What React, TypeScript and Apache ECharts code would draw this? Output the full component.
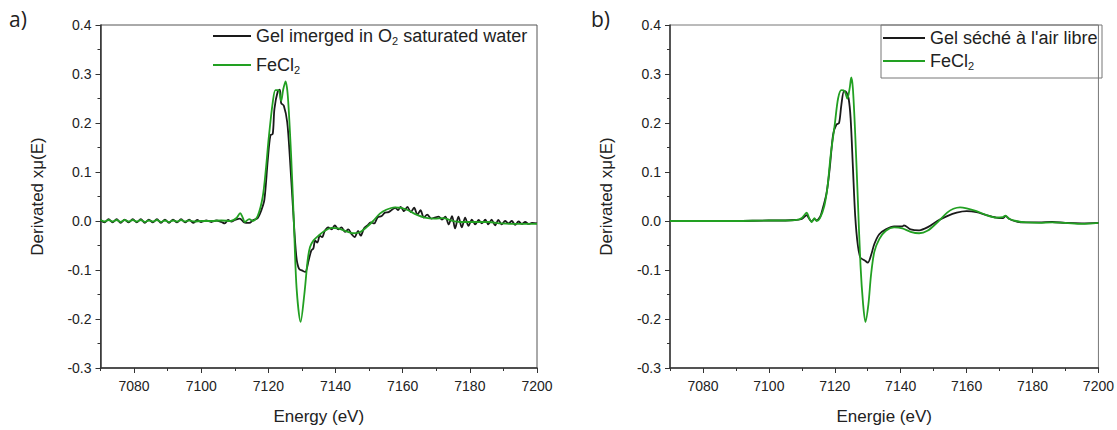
import React, { useEffect, useRef } from "react";
import * as echarts from "echarts";

// ---- Data (energy eV, derivative value) ----
const gelO2Water: [number, number][] = [
  [7070, 0.002], [7071.2, -0.003], [7072.4, 0.004], [7073.6, -0.003], [7074.8, 0.004], [7076, -0.004],
  [7077.2, 0.003], [7078.4, -0.003], [7079.6, 0.004], [7080.8, -0.003], [7082, 0.004], [7083.2, -0.004],
  [7084.4, 0.003], [7085.6, -0.003], [7086.8, 0.004], [7088, -0.004], [7089.2, 0.003], [7090.4, -0.004],
  [7091.6, 0.003], [7092.8, -0.003], [7094, 0.004], [7095.2, -0.003], [7096.4, 0.003], [7097.6, -0.004],
  [7098.8, 0.002], [7100, -0.002], [7101.5, 0.001], [7103, -0.002], [7104.5, 0.001], [7106, -0.002],
  [7107, -0.005], [7108, 0.002], [7109, -0.001], [7110, 0.002], [7111.5, 0.005], [7112.8, -0.003],
  [7114.3, -0.004], [7115.5, 0.002], [7116.8, 0.006], [7117.8, 0.02], [7118.8, 0.043], [7119.8, 0.123],
  [7120.6, 0.175], [7121.3, 0.178], [7121.8, 0.229], [7122.8, 0.265], [7123.4, 0.268], [7123.8, 0.241],
  [7124.6, 0.235], [7125.6, 0.202], [7126.4, 0.129], [7127.3, 0.029], [7128.3, -0.071], [7129.1, -0.097],
  [7130.3, -0.102], [7131, -0.104], [7132, -0.08], [7132.8, -0.06], [7133.4, -0.056], [7133.9, -0.04],
  [7134.6, -0.044], [7135.3, -0.03], [7136, -0.033], [7136.8, -0.02], [7137.8, -0.013], [7138.8, -0.017],
  [7139.8, -0.009], [7140.8, -0.017], [7141.8, -0.013], [7142.8, -0.022], [7143.8, -0.017], [7144.8, -0.027],
  [7145.7, -0.033], [7146.7, -0.02], [7147.5, -0.03], [7148.5, -0.015], [7149.5, -0.009], [7150.5, -0.003],
  [7151.5, -0.005], [7152.5, 0.007], [7153.7, 0.01], [7154.7, 0.017], [7155.8, 0.018], [7156.8, 0.023],
  [7157.8, 0.027], [7158.6, 0.022], [7159.4, 0.029], [7160.4, 0.02], [7161.4, 0.029], [7162.4, 0.018],
  [7163.4, 0.027], [7164.4, 0.013], [7165.3, 0.022], [7166.3, 0.007], [7167.3, 0.013], [7168.5, 0.005],
  [7169.5, 0.007], [7170.7, 0.009], [7171.7, 0.003], [7172.7, 0.009], [7173.7, -0.007], [7174.7, 0.01],
  [7175.6, -0.015], [7176.6, 0.009], [7177.6, -0.013], [7178.6, 0.007], [7179.6, -0.01], [7180.6, 0.003],
  [7181.6, -0.007], [7182.6, 0.002], [7183.6, -0.005], [7184.6, 0.003], [7185.5, -0.007], [7186.5, 0.003],
  [7187.5, -0.009], [7188.5, 0.002], [7189.5, -0.007], [7190.5, 0.0], [7191.5, -0.005], [7192.5, 0.0],
  [7193.5, -0.008], [7194.5, -0.001], [7195.5, -0.006], [7196.5, -0.002], [7197.5, -0.006], [7198.5, -0.004],
  [7200, -0.005],
];

const fecl2A: [number, number][] = [
  [7070, 0.002], [7071.2, -0.001], [7072.4, 0.002], [7073.6, -0.001], [7074.8, 0.002], [7076, -0.002],
  [7077.2, 0.002], [7078.4, -0.001], [7079.6, 0.002], [7080.8, -0.001], [7082, 0.002], [7083.2, -0.002],
  [7084.4, 0.001], [7085.6, -0.001], [7086.8, 0.002], [7088, -0.002], [7089.2, 0.001], [7090.4, -0.002],
  [7091.6, 0.001], [7092.8, -0.001], [7094, 0.002], [7095.2, -0.001], [7096.4, 0.001], [7098, -0.001],
  [7100, 0.0], [7103, 0.0], [7106, 0.001], [7108.8, 0.0], [7110.5, 0.006], [7111.6, 0.016], [7112.3, 0.008],
  [7113, -0.002], [7114.3, 0.004], [7115.3, 0.0], [7116.8, 0.01], [7118.3, 0.049], [7119.3, 0.109],
  [7120.1, 0.169], [7121.3, 0.242], [7122.1, 0.267], [7123, 0.267], [7123.8, 0.245], [7124.4, 0.268],
  [7125.1, 0.285], [7125.8, 0.254], [7126.8, 0.129], [7127.6, -0.004], [7128.4, -0.137], [7129.6, -0.206],
  [7130.7, -0.15], [7131.7, -0.08], [7132.4, -0.053], [7133.4, -0.04], [7134.9, -0.03], [7136.8, -0.02],
  [7138.8, -0.014], [7140.8, -0.015], [7142.8, -0.02], [7145.2, -0.025], [7147.2, -0.023], [7149.2, -0.013],
  [7151.2, 0.0], [7153.2, 0.015], [7155.1, 0.023], [7157.6, 0.028], [7159.6, 0.027], [7161.6, 0.022],
  [7164.1, 0.013], [7166.6, 0.007], [7169.5, 0.005], [7172, 0.006], [7174.5, 0.001], [7177.4, -0.002],
  [7181.4, -0.002], [7185.4, -0.002], [7189.3, -0.005], [7192, -0.006], [7196, -0.006], [7200, -0.006],
];

const gelAirDried: [number, number][] = [
  [7070, 0.0], [7080, 0.0], [7090, 0.0], [7100, 0.001], [7105, 0.001], [7108, 0.002], [7110, 0.004],
  [7111.5, 0.012], [7112.2, 0.005], [7113, -0.001], [7113.8, 0.004], [7114.5, 0.001], [7115.5, 0.008],
  [7116, 0.017], [7117.5, 0.057], [7118.5, 0.11], [7119.5, 0.177], [7120.5, 0.197], [7121.3, 0.2],
  [7122, 0.237], [7122.8, 0.265], [7123.5, 0.263], [7124.2, 0.25], [7124.8, 0.21], [7125.5, 0.11],
  [7126.2, 0.01], [7127, -0.05], [7127.8, -0.075], [7129, -0.08], [7130, -0.085], [7131, -0.07],
  [7132, -0.047], [7133.5, -0.027], [7135.5, -0.017], [7138, -0.011], [7140.5, -0.011], [7141, -0.009],
  [7143, -0.017], [7145.6, -0.019], [7148.1, -0.013], [7151.1, 0.0], [7154.1, 0.01], [7157, 0.017],
  [7160, 0.02], [7163, 0.018], [7166, 0.012], [7169, 0.007], [7171, 0.006], [7171.8, 0.01], [7173, 0.004],
  [7175, -0.001], [7178, -0.003], [7182, -0.003], [7186, -0.002], [7190, -0.004], [7195, -0.005], [7200, -0.004],
];

const fecl2B: [number, number][] = [
  [7070, 0.0], [7080, 0.0], [7090, 0.0], [7100, 0.001], [7105, 0.001], [7109, 0.003], [7110, 0.006],
  [7111.5, 0.017], [7112.2, 0.006], [7113, -0.002], [7113.8, 0.006], [7114.5, 0.0], [7115.5, 0.006],
  [7116.8, 0.03], [7117.8, 0.07], [7118.8, 0.137], [7120, 0.197], [7121, 0.25], [7122, 0.267],
  [7123, 0.265], [7123.8, 0.25], [7124.5, 0.27], [7125, 0.293], [7125.5, 0.27], [7126.2, 0.177],
  [7127, 0.043], [7127.8, -0.09], [7128.6, -0.17], [7129.3, -0.206], [7130.2, -0.17], [7131, -0.11],
  [7132, -0.063], [7133.5, -0.037], [7135.5, -0.02], [7138, -0.013], [7140.5, -0.015], [7143, -0.022],
  [7145.6, -0.025], [7148.1, -0.02], [7151.1, -0.003], [7154.1, 0.017], [7156, 0.025], [7158, 0.028],
  [7160, 0.026], [7163, 0.02], [7166, 0.012], [7169, 0.007], [7171, 0.008], [7171.8, 0.011], [7173, 0.004],
  [7175, 0.0], [7178, -0.003], [7182, -0.004], [7186, -0.003], [7190, -0.004], [7195, -0.006], [7200, -0.004],
];

const xMajorTicks = [7080, 7100, 7120, 7140, 7160, 7180, 7200];
const xMinorTicks = [7070, 7090, 7110, 7130, 7150, 7170, 7190];

const nameA = "Gel imerged in O2 saturated water";
const nameB = "Gel séché à l'air libre";
const nameFeA = "FeCl2 ";
const nameFeB = "FeCl2";

const FONT = "'Liberation Sans', Arial, Helvetica, sans-serif";
const AXIS_COLOR = "#333";
const BLACK = "#1a1a1a";
const GREEN = "#22a022";

function xAxesFor(gridIndex: number, nameText: string) {
  return [
    {
      type: "value",
      gridIndex,
      position: "bottom",
      min: 7070,
      max: 7200,
      name: nameText,
      nameLocation: "middle",
      nameGap: 40,
      nameTextStyle: { fontSize: 17, color: "#222", fontFamily: FONT },
      axisLine: { show: true, onZero: false, lineStyle: { color: AXIS_COLOR, width: 1.5 } },
      axisTick: { show: true, length: 5, customValues: xMajorTicks, lineStyle: { color: AXIS_COLOR, width: 1 } },
      axisLabel: {
        show: true,
        customValues: xMajorTicks,
        fontSize: 14,
        color: "#222",
        margin: 11,
        fontFamily: FONT,
        formatter: (v: number) => String(Math.round(v)),
      },
      splitLine: { show: false },
    },
    {
      type: "value",
      gridIndex,
      position: "bottom",
      min: 7070,
      max: 7200,
      axisLine: { show: false, onZero: false },
      axisTick: { show: true, length: 3, customValues: xMinorTicks, lineStyle: { color: AXIS_COLOR, width: 1 } },
      axisLabel: { show: false },
      splitLine: { show: false },
    },
  ];
}

function yAxisFor(gridIndex: number) {
  return {
    type: "value",
    gridIndex,
    min: -0.3,
    max: 0.4,
    interval: 0.1,
    name: "Derivated xμ(E)",
    nameLocation: "middle",
    nameGap: 55,
    nameTextStyle: { fontSize: 17, color: "#222", fontFamily: FONT },
    axisLine: { show: true, onZero: false, lineStyle: { color: AXIS_COLOR, width: 1.5 } },
    axisTick: { show: true, length: 5, lineStyle: { color: AXIS_COLOR, width: 1 } },
    minorTick: { show: true, splitNumber: 2, length: 3, lineStyle: { color: AXIS_COLOR, width: 1 } },
    axisLabel: {
      fontSize: 14,
      color: "#222",
      margin: 9,
      fontFamily: FONT,
      formatter: (v: number) => (Math.abs(v) < 1e-9 ? "0.0" : v.toFixed(1)),
    },
    splitLine: { show: false },
    minorSplitLine: { show: false },
  };
}

const legendRich = {
  n: { fontSize: 18, color: "#222", fontFamily: FONT, lineHeight: 20 },
  s: { fontSize: 11, color: "#222", fontFamily: FONT, lineHeight: 6, verticalAlign: "bottom" },
};

function legendFormatter(name: string) {
  if (name === nameA) return "{n|Gel imerged in O}{s|2}{n| saturated water}";
  if (name === nameFeA || name === nameFeB) return "{n|FeCl}{s|2}";
  return "{n|" + name + "}";
}

export default function App() {
  const ref = useRef<HTMLDivElement>(null);
  useEffect(() => {
    if (!ref.current) return;
    const chart = echarts.init(ref.current, undefined, { renderer: "svg" });
    const option: any = {
      animation: false,
      textStyle: { fontFamily: FONT },
      grid: [
        { left: 100.5, top: 25, width: 436.5, height: 350, show: true, borderColor: "#555", borderWidth: 1 },
        { left: 670, top: 25, width: 432, height: 350, show: true, borderColor: "#777", borderWidth: 1 },
      ],
      xAxis: [...xAxesFor(0, "Energy (eV)"), ...xAxesFor(1, "Energie (eV)")],
      yAxis: [yAxisFor(0), yAxisFor(1)],
      legend: [
        {
          data: [nameA, nameFeA],
          orient: "vertical",
          left: 213,
          top: 27,
          itemWidth: 38,
          itemHeight: 2,
          icon: "rect",
          itemGap: 10,
          padding: 0,
          formatter: legendFormatter,
          textStyle: { fontSize: 18, color: "#222", rich: legendRich },
        },
        {
          data: [nameB, nameFeB],
          orient: "vertical",
          left: 883,
          top: 29,
          itemWidth: 42,
          itemHeight: 2,
          icon: "rect",
          itemGap: 5,
          padding: 0,
          formatter: legendFormatter,
          textStyle: { fontSize: 18, color: "#222", rich: legendRich },
        },
      ],
      graphic: [
        { type: "text", x: 9, y: 8, style: { text: "a)", fontSize: 21, fontFamily: "'Open Sans', sans-serif", fill: "#222" } },
        { type: "text", x: 591, y: 8, style: { text: "b)", fontSize: 21, fontFamily: "'Open Sans', sans-serif", fill: "#222" } },
        {
          type: "rect",
          shape: { x: 881, y: 25, width: 221, height: 53 },
          style: { fill: "none", stroke: "#777", lineWidth: 1 },
          z: 10,
        },
      ],
      series: [
        { name: nameA, type: "line", xAxisIndex: 0, yAxisIndex: 0, data: gelO2Water, symbol: "none", smooth: 0.3, lineStyle: { color: BLACK, width: 1.8 }, itemStyle: { color: BLACK } },
        { name: nameFeA, type: "line", xAxisIndex: 0, yAxisIndex: 0, data: fecl2A, symbol: "none", smooth: 0.3, lineStyle: { color: GREEN, width: 1.8 }, itemStyle: { color: GREEN } },
        { name: nameB, type: "line", xAxisIndex: 2, yAxisIndex: 1, data: gelAirDried, symbol: "none", smooth: 0.3, lineStyle: { color: BLACK, width: 1.8 }, itemStyle: { color: BLACK } },
        { name: nameFeB, type: "line", xAxisIndex: 2, yAxisIndex: 1, data: fecl2B, symbol: "none", smooth: 0.3, lineStyle: { color: GREEN, width: 1.8 }, itemStyle: { color: GREEN } },
      ],
    };
    chart.setOption(option);
    return () => chart.dispose();
  }, []);
  return <div ref={ref} style={{ position: "absolute", left: 0, top: 0, width: 1117, height: 430 }} />;
}
